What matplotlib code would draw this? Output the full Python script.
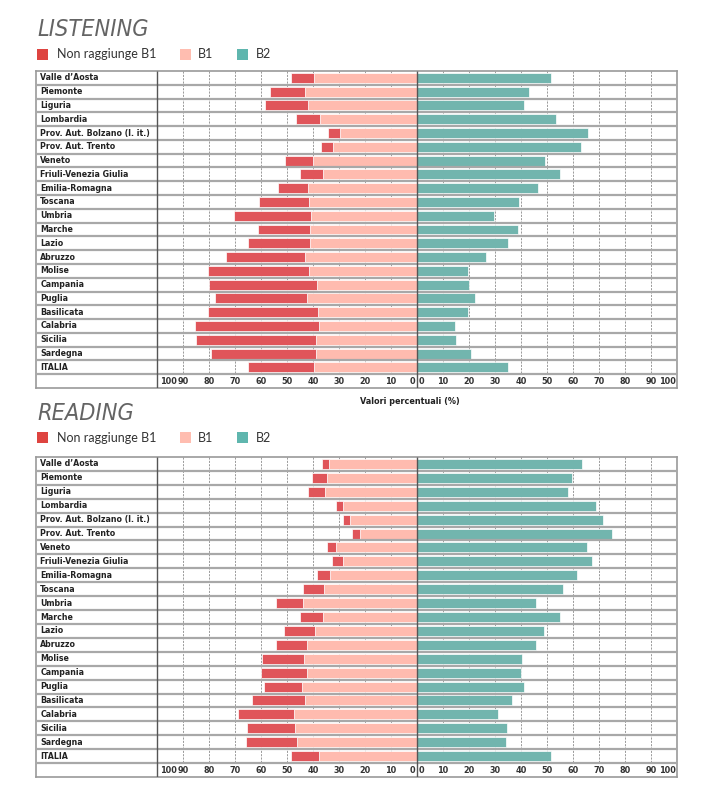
import matplotlib
matplotlib.use("Agg")
import matplotlib.pyplot as plt
import matplotlib.font_manager as fm
from matplotlib.patches import Rectangle
import numpy as np

regions = ["Valle d’Aosta", "Piemonte", "Liguria", "Lombardia",
           "Prov. Aut. Bolzano (l. it.)", "Prov. Aut. Trento", "Veneto",
           "Friuli-Venezia Giulia", "Emilia-Romagna", "Toscana", "Umbria",
           "Marche", "Lazio", "Abruzzo", "Molise", "Campania", "Puglia",
           "Basilicata", "Calabria", "Sicilia", "Sardegna", "ITALIA"]

listening_below = [8.8, 13.8, 16.5, 9.2, 4.4, 4.6, 10.6, 8.6, 11.6, 19.4, 29.6,
                   19.8, 23.9, 30.6, 39.1, 41.6, 35.4, 42.6, 47.4, 46.4, 40.5, 25.1]
listening_b1 = [39.5, 42.9, 42.1, 37.5, 29.7, 32.4, 40.0, 36.3, 41.9, 41.4, 40.6,
                41.3, 41.0, 42.9, 41.4, 38.4, 42.4, 37.9, 37.8, 38.7, 38.7, 39.8]
listening_b2 = [51.5, 43.0, 41.2, 53.3, 65.8, 62.9, 49.3, 55.0, 46.4, 39.2, 29.8,
                38.9, 35.1, 26.5, 19.5, 20.0, 22.2, 19.5, 14.8, 14.9, 20.8, 35.1]

reading_below = [2.7, 5.4, 6.5, 3.0, 2.6, 3.0, 3.6, 4.4, 5.1, 8.1, 10.6,
                 8.9, 11.8, 11.8, 16.0, 17.5, 14.6, 20.4, 21.5, 18.1, 19.7, 10.5]
reading_b1 = [33.8, 34.8, 35.4, 28.3, 25.7, 21.9, 31.0, 28.3, 33.5, 35.7, 43.7,
              36.2, 39.2, 42.5, 43.5, 42.5, 44.3, 42.9, 47.5, 47.1, 46.0, 37.8]
reading_b2 = [63.5, 59.8, 58.1, 68.7, 71.7, 75.1, 65.4, 67.3, 61.4, 56.2, 45.7,
              54.9, 49.0, 45.7, 40.5, 40.0, 41.1, 36.7, 31.0, 34.8, 34.3, 51.7]

tick_values = [100, 90, 80, 70, 60, 50, 40, 30, 20, 10, 0]
legend_labels = ["Non raggiunge B1", "B1", "B2"]
titles = ["LISTENING", "READING"]
xlabel = "Valori percentuali (%)"

RED = "#E0555A"
PINK = "#FFBBAF"
TEAL = "#72B5AE"
LEG_RED = "#DE4440"
LEG_PINK = "#FFBDB0"
LEG_TEAL = "#5FB6AE"


def find_font(candidates):
    files = [f.fname for f in fm.fontManager.ttflist]
    for cand in candidates:
        for p in files:
            if p.split("/")[-1].lower() == cand.lower():
                return p
    return None


bold_narrow = find_font(["LiberationSansNarrow-Bold.ttf", "DejaVuSansCondensed-Bold.ttf"])
ital_narrow = find_font(["LiberationSansNarrow-Italic.ttf", "DejaVuSansCondensed-Oblique.ttf"])


def fp_bold(size):
    if bold_narrow:
        return fm.FontProperties(fname=bold_narrow, size=size)
    return fm.FontProperties(family="DejaVu Sans", weight="bold", size=size * 0.85)


def fp_title(size):
    if ital_narrow:
        return fm.FontProperties(fname=ital_narrow, size=size)
    return fm.FontProperties(family="Lato", weight="light", style="italic", size=size * 0.85)


W, H = 710, 785
fig = plt.figure(figsize=(W / 100, H / 100), dpi=100)


def fx(x):
    return x / W


def fy(y):
    return 1 - y / H


XMIN = -100 - (157 - 36) / 2.6


def draw_panel(top, bottom, below, b1, b2, title, title_base, leg_y):
    fig.text(fx(37), fy(title_base), title, fontproperties=fp_title(16.8),
             color="#646464", va="baseline", ha="left")
    items = [(37, LEG_RED, 57, legend_labels[0]),
             (180, LEG_PINK, 198, legend_labels[1]),
             (237, LEG_TEAL, 256, legend_labels[2])]
    for sx, col, tx, lab in items:
        fig.add_artist(Rectangle((fx(sx), fy(leg_y + 5.5)), 11 / W, 11 / H,
                                 transform=fig.transFigure, color=col, lw=0))
        fig.text(fx(tx), fy(leg_y), lab, fontsize=9, color="#333333",
                 family=["Lato", "DejaVu Sans"], va="center", ha="left")

    ax = fig.add_axes([fx(36), fy(bottom), (677 - 36) / W, (bottom - top) / H])
    n = len(regions)
    ax.set_xlim(XMIN, 100)
    ax.set_ylim(n + 1, 0)
    ax.set_xticks([])
    ax.set_yticks([])
    for s in ax.spines.values():
        s.set_color("#9a9a9a")
        s.set_linewidth(1.2)

    for v in range(-90, 100, 10):
        if v == 0:
            continue
        ax.vlines(v, 0, n, colors="#8a8a8a", linestyles=(0, (2.5, 1.5)),
                  lw=0.6, zorder=1)

    y = np.arange(n) + 0.5
    below = np.array(below)
    b1 = np.array(b1)
    b2 = np.array(b2)
    ax.barh(y, -b1, height=0.72, color=PINK, edgecolor="white", lw=0.5, zorder=2)
    ax.barh(y, -below, left=-b1, height=0.72, color=RED, edgecolor="white",
            lw=0.5, zorder=2)
    ax.barh(y, b2, height=0.72, color=TEAL, edgecolor="white", lw=0.5, zorder=2)

    for i in range(1, n + 1):
        ax.axhline(i, color="#a8a8a8", lw=1.6, zorder=3)
    ax.vlines(0, 0, n + 1, colors="#555555", lw=1.0, zorder=4)
    ax.vlines(-100, 0, n + 1, colors="#555555", lw=1.0, zorder=4)

    for yi, name in zip(y, regions):
        ax.text(XMIN + 1.6, yi, name, fontproperties=fp_bold(6.3),
                color="#222222", va="center", ha="left")

    ty = n + 0.5
    tk = dict(va="center", fontproperties=fp_bold(6.5), color="#333333")
    for v in tick_values:
        if v == 100:
            ax.text(-v + 1, ty, str(v), ha="left", **tk)
            ax.text(v - 0.5, ty, str(v), ha="right", **tk)
        elif v == 0:
            ax.text(-0.8, ty, str(v), ha="right", **tk)
            ax.text(0.8, ty, str(v), ha="left", **tk)
        else:
            ax.text(-v, ty, str(v), ha="center", **tk)
            ax.text(v, ty, str(v), ha="center", **tk)
    return ax


draw_panel(71, 388, listening_below, listening_b1, listening_b2, titles[0], 36, 54.5)
draw_panel(457, 777, reading_below, reading_b1, reading_b2, titles[1], 420, 437.5)

fig.text(fx(410), fy(402), xlabel, fontproperties=fp_bold(6.5),
         color="#222222", ha="center", va="center")

fig.savefig("out.png", dpi=100, facecolor="white")
